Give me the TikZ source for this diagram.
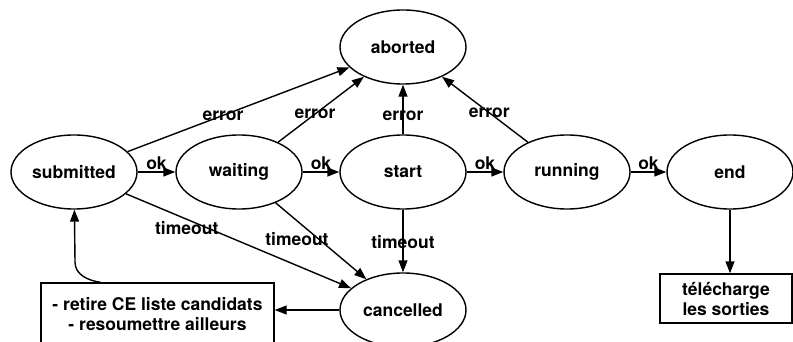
\documentclass[tikz,border=0pt]{standalone}
\usepackage{fontspec}
\setmainfont{TeX Gyre Heros}
\usepackage{tikz}
\usetikzlibrary{positioning}
\usetikzlibrary{shapes.geometric, arrows.meta}
\tikzstyle{state} = [ellipse, draw=black, line width=1.4pt, minimum width=126pt, minimum height=74pt, inner sep=0pt]
\tikzstyle{action} = [rectangle, draw=black, line width=1.4pt, align=center, inner sep=0pt]
\tikzstyle{arrow} = [line width=1.4pt, -{Triangle[length=12pt,width=9pt]}]
\tikzstyle{lbl} = [inner sep=1.5pt]

\begin{document}
\begin{tikzpicture}[x=1pt,y=-1pt,font=\fontsize{17.5}{20}\selectfont\bfseries]
        \useasboundingbox (0,0) rectangle (793,342);
        \clip (0,0) rectangle (793,342);
        \node[state] (aborted) at (403,47) {aborted};
        \node[state] (submitted) at (74,172) {submitted};
        \node[state] (waiting) at (239,172) {waiting};
        \node[state] (start) at (403,172) {start};
        \node[state] (running) at (567,172) {running};
        \node[state] (end) at (730,172) {end};
        \node[state] (cancelled) at (403,310) {cancelled};
        \node[action,minimum width=233pt,minimum height=62pt] (retire) at (157.5,314) {- retire CE liste candidats\\- resoumettre ailleurs};
        \node[action,minimum width=132pt,minimum height=49pt] (telecharge) at (726,298.5) {télécharge\\les sorties};
        \coordinate (bend) at (75,262);

        \path[arrow] (submitted) edge node[lbl,above] {ok} (waiting);
        \path[arrow] (waiting) edge node[lbl,above] {ok} (start);
        \path[arrow] (start) edge node[lbl,above] {ok} (running);
        \path[arrow] (running) edge node[lbl,above] {ok} (end);

        \path[arrow] (submitted) edge node[lbl,pos=0.43] {error} (aborted);
        \path[arrow] (waiting) edge node[lbl,pos=0.43] {error} (aborted);
        \path[arrow] (start) edge node[lbl,pos=0.37] {error} (aborted);
        \path[arrow] (running) edge node[lbl,pos=0.45] {error} (aborted);

        \path[arrow] (submitted) edge node[lbl,pos=0.27,yshift=-9pt] {timeout} (cancelled);
        \path[arrow] (waiting) edge node[lbl,pos=0.4,xshift=-15pt,yshift=-6pt] {timeout} (cancelled);
        \path[arrow] (start) edge node[lbl,pos=0.52] {timeout} (cancelled);

        \draw[arrow] (cancelled.west) -- (cancelled.west -| retire.east);
        \draw[arrow] (end.south) -- (end.south |- telecharge.north);
        \draw[arrow] ([xshift=-57pt]retire.north) to[out=172,in=-90] (bend) -- (submitted);
    \end{tikzpicture}
\end{document}
